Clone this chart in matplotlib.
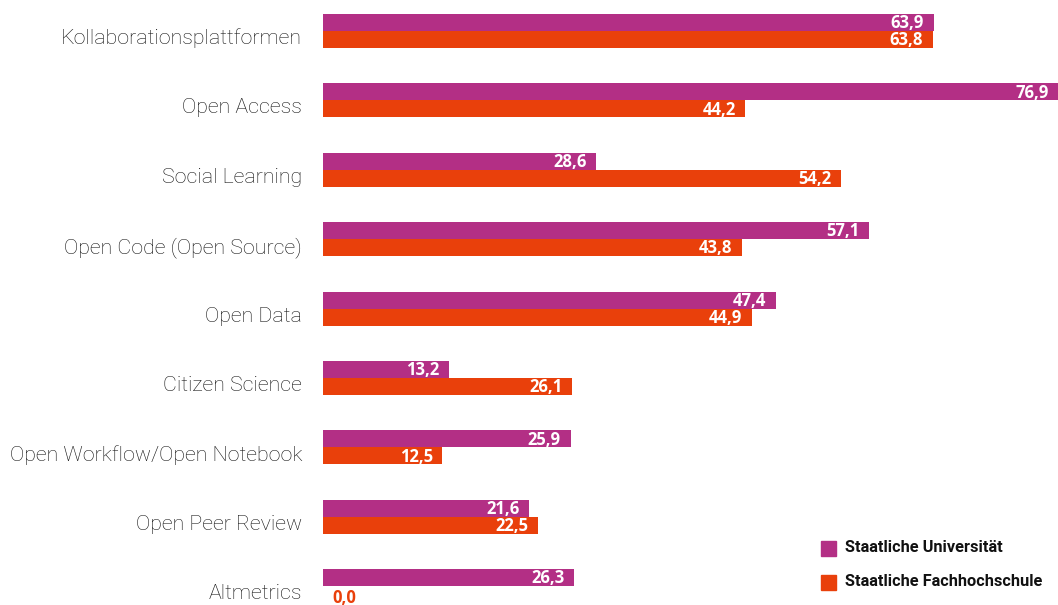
import matplotlib.pyplot as plt
import numpy as np

categories = [
    "Kollaborationsplattformen",
    "Open Access",
    "Social Learning",
    "Open Code (Open Source)",
    "Open Data",
    "Citizen Science",
    "Open Workflow/Open Notebook",
    "Open Peer Review",
    "Altmetrics",
]
uni = [63.9, 76.9, 28.6, 57.1, 47.4, 13.2, 25.9, 21.6, 26.3]
fh = [63.8, 44.2, 54.2, 43.8, 44.9, 26.1, 12.5, 22.5, 0.0]
series_names = ["Staatliche Universität", "Staatliche Fachhochschule"]

PURPLE = "#B32F85"
ORANGE = "#E9400B"


def fmt(v):
    return f"{v:.1f}".replace(".", ",")


fig = plt.figure(figsize=(10.58, 6.05), dpi=100)
ax = fig.add_axes([323 / 1058, 0, 1 - 323 / 1058, 1])

y = np.arange(len(categories))
h = 17 / 69.4
ax.barh(y - h / 2, uni, height=h, color=PURPLE, label=series_names[0])
ax.barh(y + h / 2, fh, height=h, color=ORANGE, label=series_names[1])

ax.set_xlim(0, 76.9)
ax.set_ylim((605 - 31) / 69.4, -31 / 69.4)

# value labels
for i, (a, b) in enumerate(zip(uni, fh)):
    for v, yy in ((a, i - h / 2), (b, i + h / 2)):
        if v > 3:
            ax.text(v - 1.0, yy + 0.01, fmt(v), ha="right", va="center",
                    color="white", fontsize=12, fontweight="bold",
                    family="Open Sans")
        else:
            ax.text(1.0, yy + 0.05, fmt(v), ha="left", va="center",
                    color=ORANGE, fontsize=12, fontweight="bold",
                    family="Open Sans")

ax.set_yticks(y + 0.08)
ax.set_yticklabels(categories, family="Roboto", fontweight="light",
                   fontsize=15.4, color="#111111")
ax.tick_params(axis="y", length=0, pad=15)
ax.set_xticks([])
for s in ax.spines.values():
    s.set_visible(False)

# legend
leg_y = [548, 582]
for yy, col, name in zip(leg_y, [PURPLE, ORANGE], series_names):
    fig.patches.append(plt.Rectangle((821 / 1058, 1 - (yy + 7.5) / 605),
                                     15 / 1058, 15 / 605,
                                     transform=fig.transFigure,
                                     color=col))
    fig.text(845 / 1058, 1 - yy / 605, name, ha="left", va="center",
             family="Roboto", fontweight="bold", fontsize=11.8,
             color="#111111")

fig.savefig("out.png", dpi=100)
